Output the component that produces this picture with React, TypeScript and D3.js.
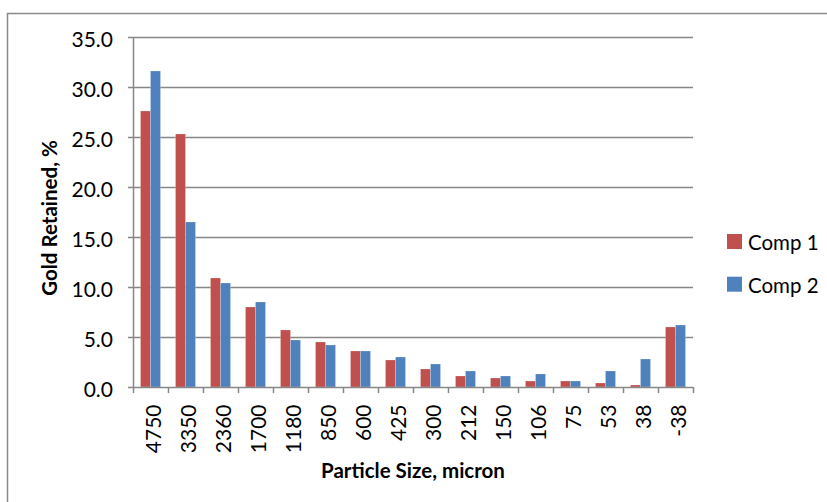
import React from "react";
import * as d3 from "d3";

const categories = ["4750", "3350", "2360", "1700", "1180", "850", "600", "425", "300", "212", "150", "106", "75", "53", "38", "-38"];
const comp1 = [27.6, 25.3, 10.9, 8.0, 5.7, 4.5, 3.6, 2.7, 1.8, 1.1, 0.9, 0.6, 0.6, 0.4, 0.2, 6.0];
const comp2 = [31.6, 16.5, 10.4, 8.5, 4.7, 4.2, 3.6, 3.0, 2.3, 1.6, 1.1, 1.3, 0.6, 1.6, 2.8, 6.2];
const seriesNames = ["Comp 1", "Comp 2"];
const seriesColors = ["#C0504D", "#4F81BD"];
const yTicks = [0, 5, 10, 15, 20, 25, 30, 35];

const FONT = "Lato, 'Open Sans', sans-serif";

export default function App() {
  const left = 133, right = 693, top = 37, bottom = 387;
  const x = d3.scaleBand<string>().domain(categories).range([left, right]).paddingInner(3 / 7).paddingOuter(3 / 14);
  const xs = d3.scaleBand<string>().domain(seriesNames).range([0, x.bandwidth()]);
  const y = d3.scaleLinear().domain([0, 35]).range([bottom, top]);
  const step = x.step();
  const series = [comp1, comp2];
  const grid = "#878787";

  return (
    <svg width={827} height={502} style={{ position: "absolute", left: 0, top: 0, background: "#fff" }} fontFamily={FONT}>
      <rect x={7.5} y={13.5} width={840} height={520} fill="none" stroke="#8a8a8a" strokeWidth={1.5} />
      {yTicks.filter((t) => t > 0).map((t) => (
        <line key={"g" + t} x1={left} x2={right} y1={Math.round(y(t)) + 0.5} y2={Math.round(y(t)) + 0.5} stroke={grid} strokeWidth={1.5} />
      ))}
      {series.map((vals, si) =>
        categories.map((c, i) => {
          const bx = (x(c) as number) + (xs(seriesNames[si]) as number);
          const by = y(vals[i]);
          return (
            <rect key={si + "-" + c} x={bx} y={by} width={xs.bandwidth()} height={bottom - by} fill={seriesColors[si]} stroke="rgba(255,255,255,0.35)" strokeWidth={0.6} />
          );
        })
      )}
      {/* y axis */}
      <line x1={left + 0.5} x2={left + 0.5} y1={top} y2={bottom} stroke={grid} strokeWidth={1.5} />
      {yTicks.map((t) => (
        <g key={"yt" + t}>
          <line x1={left - 5} x2={left} y1={Math.round(y(t)) + 0.5} y2={Math.round(y(t)) + 0.5} stroke={grid} strokeWidth={1.5} />
          <text x={113} y={y(t) + 1} textAnchor="end" dominantBaseline="central" fontSize={21} fill="#000">
            {t.toFixed(1)}
          </text>
        </g>
      ))}
      {/* x axis */}
      <line x1={left} x2={right} y1={bottom + 0.5} y2={bottom + 0.5} stroke={grid} strokeWidth={1.5} />
      {d3.range(categories.length + 1).map((i) => (
        <line key={"xt" + i} x1={left + i * step + 0.5} x2={left + i * step + 0.5} y1={bottom} y2={bottom + 6} stroke={grid} strokeWidth={1.5} />
      ))}
      {categories.map((c) => {
        const cx = (x(c) as number) + x.bandwidth() / 2 + 2;
        return (
          <text key={"xl" + c} transform={`translate(${cx},404.5) rotate(-90)`} textAnchor="end" dominantBaseline="central" fontSize={21} fill="#000">
            {c}
          </text>
        );
      })}
      {/* axis titles */}
      <text transform="translate(57,218) rotate(-90)" textAnchor="middle" fontSize={20.5} fontWeight="bold" fill="#000">
        Gold Retained, %
      </text>
      <text x={413} y={478} textAnchor="middle" fontSize={20.5} fontWeight="bold" fill="#000">
        Particle Size, micron
      </text>
      {/* legend */}
      {seriesNames.map((s, i) => (
        <g key={"lg" + s}>
          <rect x={727} y={234 + i * 42.7} width={15} height={15} fill={seriesColors[i]} />
          <text x={748} y={241.8 + i * 42.7} dominantBaseline="central" fontSize={20.5} fill="#000">
            {s}
          </text>
        </g>
      ))}
    </svg>
  );
}
